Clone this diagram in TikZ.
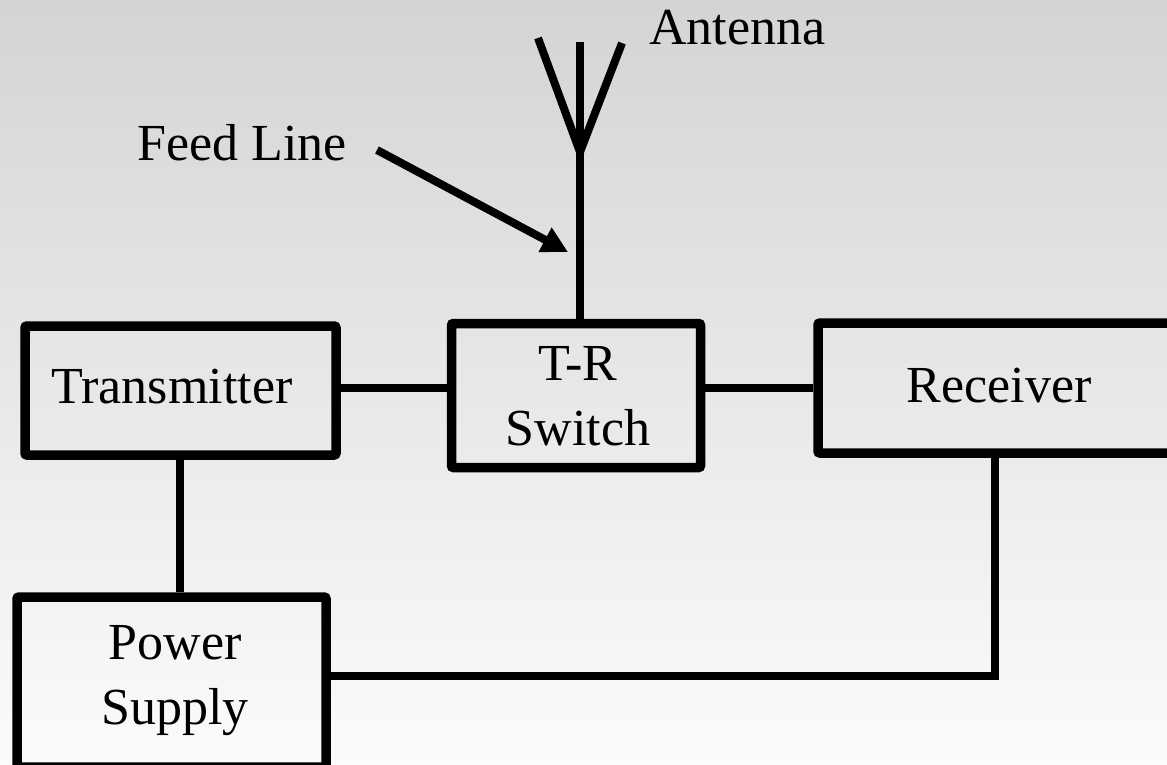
\documentclass[tikz,border=0pt]{standalone}
\usepackage{fontspec}
\setmainfont{Liberation Serif}
\usetikzlibrary{arrows.meta}
\definecolor{bgtop}{RGB}{212,212,212}
\definecolor{bgbot}{RGB}{251,251,251}
\begin{document}
\begin{tikzpicture}[x=1pt,y=-1pt,
  blk/.style={draw=black, line width=9.5pt, rounded corners=2pt, inner sep=0pt},
  txt/.style={inner sep=0pt, align=center, font=\fontsize{52}{65}\selectfont},
  lbl/.style={inner sep=0pt, anchor=base west, font=\fontsize{52}{65}\selectfont},
  wire/.style={line width=8pt}
]
\shade[top color=bgtop, bottom color=bgbot] (0,0) rectangle (1167,764);
\useasboundingbox (0,0) rectangle (1167,764);

% boxes
\node[blk, minimum width=311pt, minimum height=129pt] (tx) at (180.5,390.5) {};
\node[blk, minimum width=249pt, minimum height=144pt] (tr) at (576,395.5) {};
\node[blk, minimum width=362pt, minimum height=130pt] (rx) at (999,388) {};
\node[blk, minimum width=309pt, minimum height=170pt] (ps) at (171.5,682) {};

% box texts
\node[txt, anchor=base] (tx text) at (172,403) {Transmitter};
\node[txt, anchor=base] (rx text) at (999,402) {Receiver};
\node[txt] (tr text) at ([xshift=2pt,yshift=-1pt]tr.center) {T-R\\Switch};
\node[txt] (ps text) at ([xshift=3.5pt,yshift=1pt]ps.center) {Power\\Supply};

% labels
\node[lbl] (ant lbl) at (649,44) {Antenna};
\node[lbl] (feed lbl) at (137,160) {Feed Line};

% helper coordinates
\coordinate (sigy) at (0,388);
\coordinate (ant) at (580,152);
\coordinate (antL) at (538,38);
\coordinate (antR) at (622,43);
\coordinate (antT) at (580,42);
\coordinate (rxdrop) at (995,0);
\coordinate (psy) at (0,676);
\coordinate (fltail) at (377,150);
\coordinate (fltip) at (568,252);

% connectors
\draw[wire] (tx.east |- sigy) -- (tr.west |- sigy);
\draw[wire] (tr.east |- sigy) -- (rx.west |- sigy);
\draw[wire] (tx.south -| 180,0) -- (ps.north -| 180,0);
\draw[wire] (rx.south -| rxdrop) -- (rxdrop |- psy) -- (ps.east |- psy);

% antenna
\draw[wire, line join=miter] (tr.north -| ant) -- (ant) -- (antT);
\draw[wire, line join=miter] (antL) -- (ant) -- (antR);

% feed line arrow
\draw[wire, -{Triangle[length=26pt,width=26pt]}] (fltail) -- (fltip);
\end{tikzpicture}
\end{document}
